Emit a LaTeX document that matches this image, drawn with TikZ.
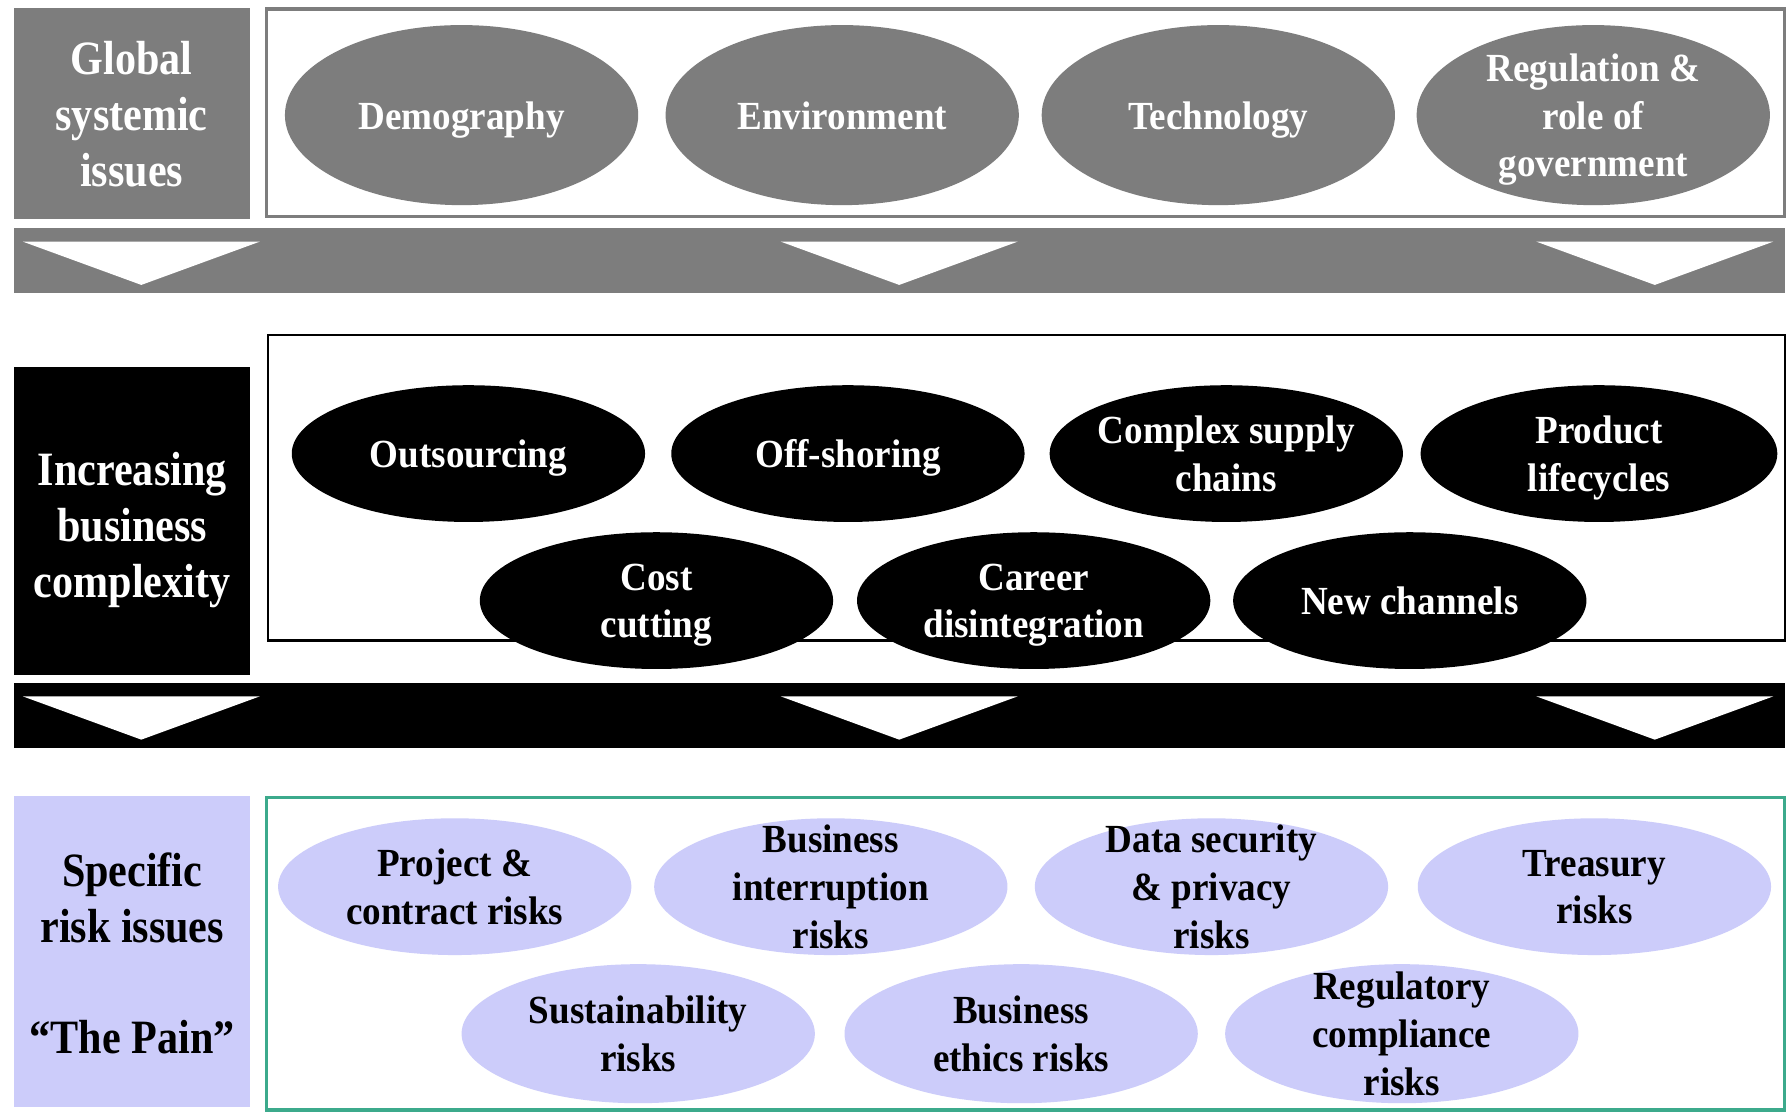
\documentclass[tikz,border=0pt]{standalone}
\usepackage{fontspec}
\setmainfont{Liberation Serif}
\newfontfamily\ellfont{Liberation Serif}[FakeStretch=0.93]
\newfontfamily\sidefont{Liberation Serif}[FakeStretch=0.88]
\usetikzlibrary{shapes.geometric}
\definecolor{gr}{RGB}{125,125,125}
\definecolor{lav}{RGB}{204,204,250}
\definecolor{tealframe}{RGB}{60,170,140}
\begin{document}
\begin{tikzpicture}[x=1pt,y=-1pt,
  oval/.style={ellipse, minimum width=310, minimum height=#1, inner sep=0},
  oval/.default=120,
  etxt/.style={align=center, font=\ellfont\bfseries\fontsize{35}{42}\selectfont, inner sep=0, yshift=-4pt,
    execute at begin node=\vphantom{Ay}, execute at end node=\vphantom{Ay}},
  stxt/.style={align=center, font=\sidefont\bfseries\fontsize{42}{49}\selectfont, inner sep=0, yshift=-4pt,
    execute at begin node=\vphantom{Ay}, execute at end node=\vphantom{Ay}},
  sidebox/.style={minimum width=207, minimum height=#1, inner sep=0},
  sidebox/.default=200]
\fill[white] (0,0) rectangle (1568,980);
\useasboundingbox (0,0) rectangle (1568,980);

% ---------- Row 1: global systemic issues ----------
\node[sidebox=185, fill=gr] (globbox) at (115.5,99.5) {};
\node[stxt, text=white, yshift=-1pt] at (globbox) {Global\\systemic\\issues};
\draw[gr, line width=3] (234,8) rectangle (1566,190);
\node[oval=158, fill=gr] (dem) at (405,101) {};
\node[oval=158, fill=gr] (env) at (739,101) {};
\node[oval=158, fill=gr] (tech) at (1069,101) {};
\node[oval=158, fill=gr] (reg) at (1398,101) {};
\node[etxt, text=white] at (dem) {Demography};
\node[etxt, text=white] at (env) {Environment};
\node[etxt, text=white] at (tech) {Technology};
\node[etxt, text=white] at (reg) {Regulation \&\\role of\\government};
\fill[gr] (12,200) rectangle (1566,257);
\foreach \cx in {124,789,1452}{
  \fill[white] (\cx-104,212) -- (\cx+104,212) -- (\cx,250) -- cycle;
}

% ---------- Row 2: increasing business complexity ----------
\node[sidebox=270, fill=black] (incbox) at (116,457) {};
\node[stxt, text=white] at (116,461) {Increasing\\business\\complexity};
\draw[black, line width=2] (235,294) rectangle (1566,562);
\node[oval, fill=black] (outs) at (411,398) {};
\node[oval, fill=black] (offs) at (744,398) {};
\node[oval, fill=black] (csc) at (1076,398) {};
\node[oval, fill=black, minimum width=313] (plc) at (1403,398) {};
\node[oval, fill=black] (cost) at (576,527) {};
\node[oval, fill=black] (career) at (907,527) {};
\node[oval, fill=black] (newch) at (1237,527) {};
\node[etxt, text=white] at (outs) {Outsourcing};
\node[etxt, text=white] at (offs) {Off-shoring};
\node[etxt, text=white] at (csc) {Complex supply\\chains};
\node[etxt, text=white] at (plc) {Product\\lifecycles};
\node[etxt, text=white] at (cost) {Cost\\cutting};
\node[etxt, text=white] at (career) {Career\\disintegration};
\node[etxt, text=white] at (newch) {New channels};
\fill[black] (12,599) rectangle (1566,656);
\foreach \cx in {124,789,1452}{
  \fill[white] (\cx-104,611) -- (\cx+104,611) -- (\cx,649) -- cycle;
}

% ---------- Row 3: specific risk issues ----------
\node[sidebox=273, fill=lav] (riskbox) at (116,834.5) {};
\node[stxt, text=black] at (116,837) {Specific\\risk issues\\[49pt]“The Pain”};
\draw[tealframe, line width=3] (234,700) rectangle (1566,974);
\node[oval, fill=lav] (proj) at (399,778) {};
\node[oval, fill=lav] (busint) at (729,778) {};
\node[oval, fill=lav] (data) at (1063,778) {};
\node[oval, fill=lav] (treas) at (1399,778) {};
\node[oval=122, fill=lav] (sust) at (560,907) {};
\node[oval=122, fill=lav] (ethics) at (896,907) {};
\node[oval=122, fill=lav] (regc) at (1230,907) {};
\node[etxt] at (proj) {Project \&\\contract risks};
\node[etxt] at (busint) {Business\\interruption\\risks};
\node[etxt] at (data) {Data security\\\& privacy\\risks};
\node[etxt] at (treas) {Treasury\\risks};
\node[etxt] at (sust) {Sustainability\\risks};
\node[etxt] at (ethics) {Business\\ethics risks};
\node[etxt] at (regc) {Regulatory\\compliance\\risks};
\end{tikzpicture}
\end{document}
